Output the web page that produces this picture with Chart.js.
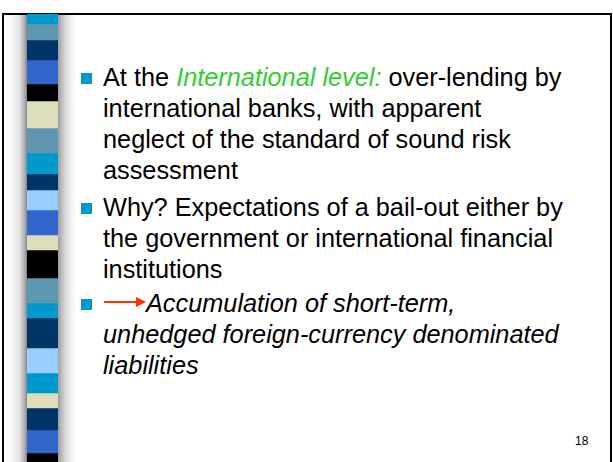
<!DOCTYPE html>
<html>
<head>
<meta charset="utf-8">
<script src="https://cdn.jsdelivr.net/npm/chart.js@4"></script>
<style>
  html, body { margin: 0; padding: 0; background: #fff; }
  body { width: 613px; height: 462px; position: relative; overflow: hidden;
         font-family: "Liberation Sans", Arial, sans-serif; color: #000; }
  #frame { position: absolute; left: 2px; top: 13px; width: 606px; height: 470px;
           border: 2px solid #000; border-bottom: none; }
  #shade { position: absolute; left: 5px; top: 15px; width: 72px; height: 447px;
           background: linear-gradient(to right, #fff 0%, #f7f7f7 10%, #e2e2e2 20%, #b0b0b0 27%, #8c8c8c 30%,
             #8c8c8c 72%, #a8a8a8 75%, #d4d4d4 83%, #f2f2f2 92%, #fff 100%); }
  #strip { position: absolute; left: 27px; top: 14px; }
  .para { position: absolute; left: 103px; font-size: 25.3px; line-height: 31px; white-space: nowrap; }
  .para .sq { position: absolute; left: -22px; top: 11px; width: 11px; height: 11px; background: #0099CC; }
  .green { color: #33CC33; font-style: italic; }
  .it { font-style: italic; }
  #page { position: absolute; left: 575px; top: 434px; font-size: 12px; }
</style>
</head>
<body>
<div id="frame"></div>
<div id="shade"></div>
<canvas id="strip" width="31" height="448"></canvas>

<div class="para" style="top:62px"><span class="sq"></span>At the <span class="green">International level:</span> over-lending by<br>international banks, with apparent<br>neglect of the standard of sound risk<br>assessment</div>
<div class="para" style="top:192px"><span class="sq"></span>Why? Expectations of a bail-out either by<br>the government or international financial<br>institutions</div>
<div class="para it" style="top:288px"><span class="sq"></span><svg width="43" height="12" style="vertical-align:4px"><line x1="1" y1="6" x2="34" y2="6" stroke="#FF3300" stroke-width="2"/><polygon points="33,1 43,6 33,11" fill="#FF3300"/></svg>Accumulation of short-term,<br>unhedged foreign-currency denominated<br>liabilities</div>
<div id="page">18</div>

<script>
// stripes of the left border, top to bottom
const stripeHeights = [10, 16, 20, 24, 17, 27, 25, 21, 16, 20, 25, 15, 28, 25, 15, 30, 25, 20, 15, 22, 23, 9];
const stripeColors = ['#0099CC', '#5F97B0', '#003366', '#3366CC', '#000000', '#DDDDBB', '#5F97B0', '#0099CC',
  '#003366', '#99CCFF', '#3366CC', '#DDDDBB', '#000000', '#5F97B0', '#0099CC', '#003366',
  '#99CCFF', '#0099CC', '#DDDDBB', '#003366', '#3366CC', '#000000'];

const ctx = document.getElementById('strip');

new Chart(ctx, {
  type: 'bar',
  data: {
    labels: ['strip'],
    datasets: stripeHeights.map((h, i) => ({
      data: [h],
      backgroundColor: stripeColors[i],
      borderWidth: 0,
      barPercentage: 1,
      categoryPercentage: 1,
    })),
  },
  options: {
    responsive: false,
    animation: false,
    layout: { padding: 0 },
    plugins: { legend: { display: false }, tooltip: { enabled: false } },
    scales: {
      x: { stacked: true, display: false },
      y: { stacked: true, display: false, reverse: true, min: 0, max: 448 },
    },
  },
});
</script>
</body>
</html>
